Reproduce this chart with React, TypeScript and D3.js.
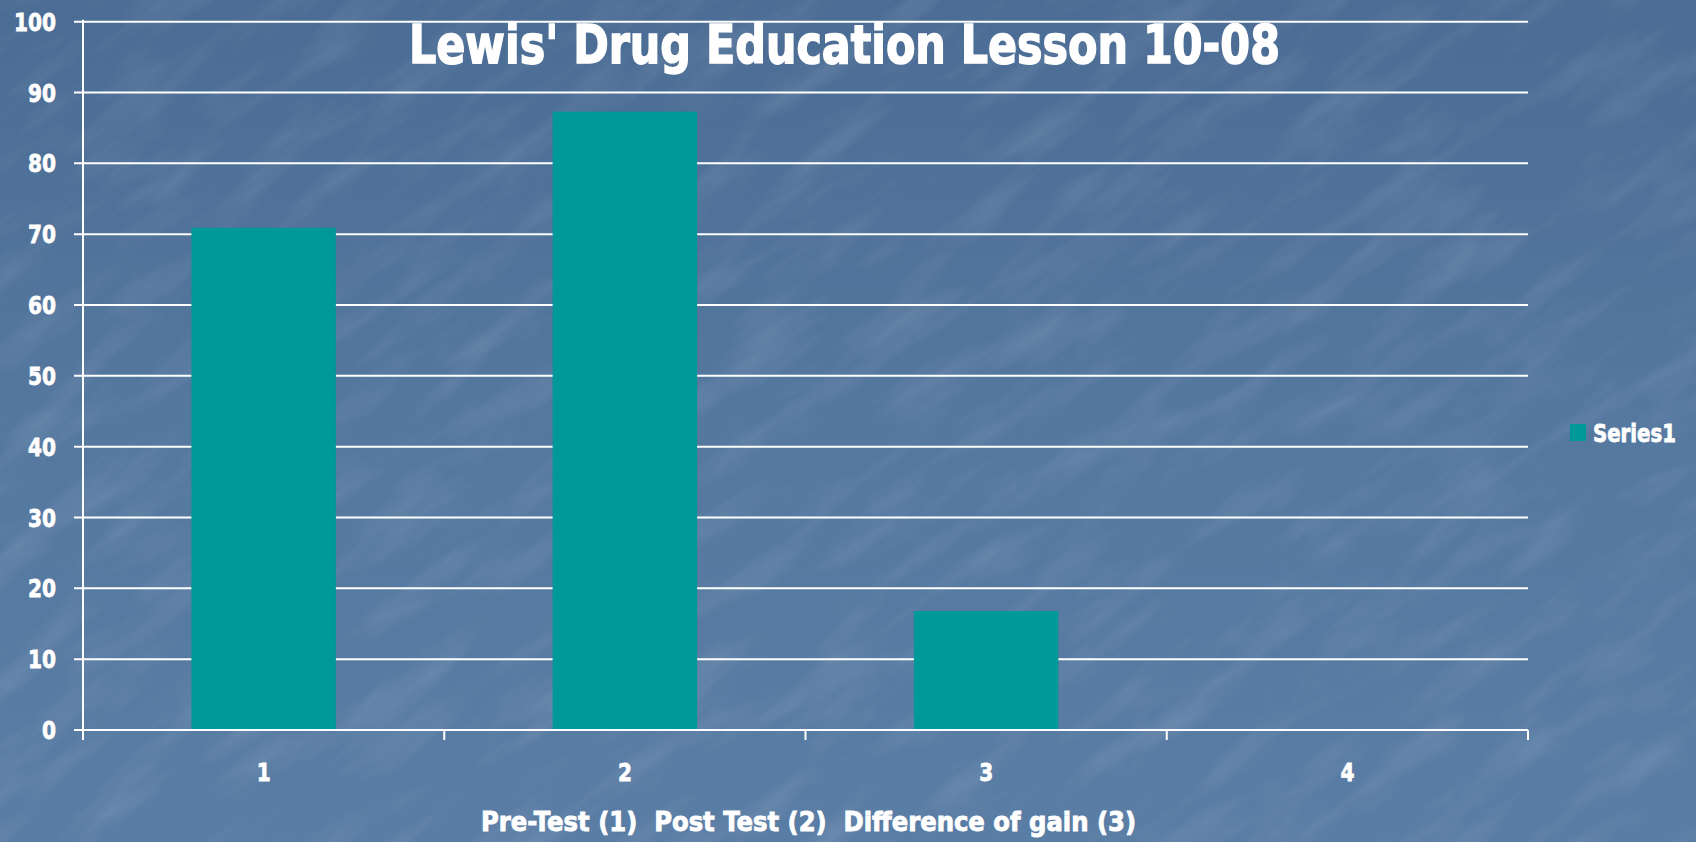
import React from "react";
import * as d3 from "d3";

const categories = ["1", "2", "3", "4"];
const series1 = [70.9, 87.3, 16.8, 0];
const yTicks = [0, 10, 20, 30, 40, 50, 60, 70, 80, 90, 100];
const seriesName = "Series1";
const title = "Lewis' Drug Education Lesson 10-08";
const xTitle = "Pre-Test (1)  Post Test (2)  Difference of gain (3)";

const W = 1696;
const H = 842;
const plot = { left: 83, right: 1528, top: 21.7, bottom: 730 };
const FONT = "'DejaVu Sans', Verdana, sans-serif";

export default function App() {
  const x = d3
    .scaleBand<string>()
    .domain(categories)
    .range([plot.left, plot.right])
    .paddingInner(0.6)
    .paddingOuter(0.3);
  const xb = d3.scaleBand<string>().domain(categories).range([plot.left, plot.right]);
  const y = d3.scaleLinear().domain([0, 100]).range([plot.bottom, plot.top]);
  const boundaries = [plot.left, ...categories.map((c) => (xb(c) as number) + xb.bandwidth())];

  const textProps = {
    fill: "#fff",
    stroke: "#fff",
    fontFamily: FONT,
    fontWeight: "bold" as const,
    lengthAdjust: "spacingAndGlyphs",
  };

  return (
    <svg
      width={W}
      height={H}
      style={{ position: "absolute", left: 0, top: 0, display: "block" }}
    >
      <defs>
        <linearGradient id="bg" x1="0" y1="0" x2="0" y2="1">
          <stop offset="0" stopColor="#4b6c94" />
          <stop offset="0.5" stopColor="#55789f" />
          <stop offset="1" stopColor="#5a7da5" />
        </linearGradient>
        <filter id="tex" x="0" y="0" width="100%" height="100%">
          <feTurbulence type="fractalNoise" baseFrequency="0.008 0.03" numOctaves="4" seed="11" result="n" />
          <feColorMatrix
            type="matrix"
            values="0 0 0 0 1  0 0 0 0 1  0 0 0 0 1  1.1 0 0 0 -0.5"
          />
        </filter>
      </defs>
      <rect width={W} height={H} fill="url(#bg)" />
      <g transform={`rotate(-35 ${W / 2} ${H / 2})`} opacity={0.2}>
        <rect x={-400} y={-600} width={W + 800} height={H + 1200} filter="url(#tex)" />
      </g>

      {/* gridlines */}
      {yTicks.map((t) => (
        <g key={t}>
          <line x1={plot.left - 9} x2={plot.right} y1={y(t)} y2={y(t)} stroke="#fff" strokeWidth={2} />
          <text
            {...textProps}
            x={56}
            y={y(t) + 9}
            textAnchor="end"
            fontSize={25}
            strokeWidth={0.8}
            textLength={String(t).length * 14}
          >
            {t}
          </text>
        </g>
      ))}

      {/* y axis */}
      <line x1={plot.left} x2={plot.left} y1={plot.top - 2} y2={plot.bottom + 10} stroke="#fff" strokeWidth={2} />

      {/* bars */}
      {categories.map((c, i) =>
        series1[i] > 0 ? (
          <rect
            key={c}
            x={x(c)}
            y={y(series1[i])}
            width={x.bandwidth()}
            height={y(0) - y(series1[i])}
            fill="#009999"
          />
        ) : null
      )}

      {/* x axis */}
      <line x1={plot.left} x2={plot.right} y1={plot.bottom} y2={plot.bottom} stroke="#fff" strokeWidth={2} />
      {boundaries.map((b, i) => (
        <line key={i} x1={b} x2={b} y1={plot.bottom} y2={plot.bottom + 10} stroke="#fff" strokeWidth={2} />
      ))}
      {categories.map((c) => (
        <text
          {...textProps}
          key={c}
          x={(xb(c) as number) + xb.bandwidth() / 2}
          y={781}
          textAnchor="middle"
          fontSize={25}
          strokeWidth={0.8}
          textLength={14}
        >
          {c}
        </text>
      ))}

      {/* title */}
      <text {...textProps} x={409} y={63} fontSize={54} strokeWidth={1.6} textLength={871}>
        {title}
      </text>

      {/* x axis title */}
      <text
        {...textProps}
        x={481}
        y={831}
        fontSize={26}
        strokeWidth={0.9}
        textLength={655}
        style={{ whiteSpace: "pre" }}
      >
        {xTitle}
      </text>

      {/* legend */}
      <rect x={1570} y={424} width={16} height={17} fill="#009999" />
      <text {...textProps} x={1593} y={442} fontSize={24} strokeWidth={0.8} textLength={83}>
        {seriesName}
      </text>
    </svg>
  );
}
